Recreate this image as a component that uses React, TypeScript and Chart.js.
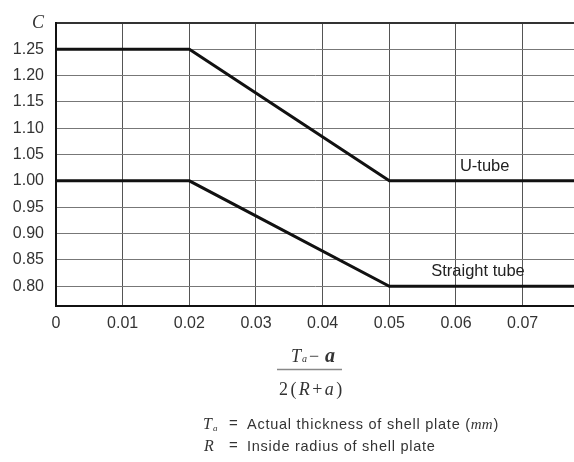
import React, { useEffect, useRef } from "react";
import { Chart, registerables } from "chart.js";

Chart.register(...registerables);

const U_TUBE_X = [0, 0.02, 0.05, 0.0777];
const U_TUBE_Y = [1.25, 1.25, 1.0, 1.0];
const STRAIGHT_X = [0, 0.02, 0.05, 0.0777];
const STRAIGHT_Y = [1.0, 1.0, 0.8, 0.8];
const X_TICKS = [0, 0.01, 0.02, 0.03, 0.04, 0.05, 0.06, 0.07];
const Y_TICKS = [0.8, 0.85, 0.9, 0.95, 1.0, 1.05, 1.1, 1.15, 1.2, 1.25, 1.3];
const SERIES_LABELS = ["U-tube", "Straight tube"];

const W = 574;
const H = 462;

const SANS = '"Liberation Sans", Arial, sans-serif';
const SERIF = '"Liberation Serif", "Times New Roman", serif';

const textPlugin = {
  id: "extraTexts",
  afterDraw(chart: any) {
    const { ctx } = chart;
    const x = chart.scales.x;
    const y = chart.scales.y;
    ctx.save();
    // curve labels
    ctx.fillStyle = "#222";
    ctx.font = `16.5px ${SANS}`;
    ctx.textAlign = "center";
    ctx.textBaseline = "middle";
    ctx.fillText(SERIES_LABELS[0], x.getPixelForValue(0.0643), y.getPixelForValue(1.027));
    ctx.fillText(SERIES_LABELS[1], x.getPixelForValue(0.0633), y.getPixelForValue(0.828));

    // axis title fraction
    ctx.textAlign = "left";
    ctx.textBaseline = "alphabetic";
    ctx.fillStyle = "#333";
    ctx.font = `italic 18px ${SERIF}`;
    ctx.fillText("T", 291, 362);
    ctx.font = `italic 10px ${SERIF}`;
    ctx.fillText("a", 302, 362);
    ctx.font = `18px ${SERIF}`;
    ctx.fillText("\u2212", 309, 362);
    ctx.font = `bold italic 20px ${SERIF}`;
    ctx.fillText("a", 325, 362);

    ctx.strokeStyle = "#888";
    ctx.lineWidth = 1.5;
    ctx.beginPath();
    ctx.moveTo(277, 369.5);
    ctx.lineTo(342, 369.5);
    ctx.stroke();

    const denom: [string, string][] = [
      ["2", "normal"],
      ["(", "normal"],
      ["R", "italic"],
      ["+", "normal"],
      ["a", "italic"],
      [")", "normal"],
    ];
    let dx = 279;
    for (const [ch, st] of denom) {
      ctx.font = `${st === "italic" ? "italic " : ""}18px ${SERIF}`;
      ctx.fillText(ch, dx, 395);
      dx += ctx.measureText(ch).width + 2.4;
    }

    // legend of symbols
    ctx.fillStyle = "#333";
    ctx.font = `italic 16px ${SERIF}`;
    ctx.fillText("T", 203, 429);
    ctx.font = `italic 9px ${SERIF}`;
    ctx.fillText("a", 213, 431);
    ctx.font = `15px ${SANS}`;
    ctx.fillText("=", 229, 428);
    (ctx as any).letterSpacing = "0.75px";
    ctx.font = `14.5px ${SANS}`;
    const t1 = "Actual thickness of shell plate (";
    ctx.fillText(t1, 247, 429);
    const w1 = ctx.measureText(t1).width;
    (ctx as any).letterSpacing = "0px";
    ctx.font = `italic 15px ${SERIF}`;
    ctx.fillText("mm", 247 + w1, 429);
    const w2 = ctx.measureText("mm").width;
    ctx.font = `14.5px ${SANS}`;
    ctx.fillText(")", 247 + w1 + w2 + 1, 429);

    ctx.font = `italic 16px ${SERIF}`;
    ctx.fillText("R", 204, 451);
    ctx.font = `15px ${SANS}`;
    ctx.fillText("=", 229, 450);
    (ctx as any).letterSpacing = "0.75px";
    ctx.font = `14.5px ${SANS}`;
    ctx.fillText("Inside radius of shell plate", 247, 451);
    (ctx as any).letterSpacing = "0px";
    ctx.restore();
  },
};

export default function App() {
  const ref = useRef<HTMLCanvasElement>(null);
  useEffect(() => {
    if (!ref.current) return;
    const chart = new Chart(ref.current, {
      type: "line",
      data: {
        datasets: [
          {
            label: SERIES_LABELS[0],
            data: U_TUBE_X.map((v, i) => ({ x: v, y: U_TUBE_Y[i] })),
            borderColor: "#111",
            borderWidth: 3,
            pointRadius: 0,
            tension: 0,
          },
          {
            label: SERIES_LABELS[1],
            data: STRAIGHT_X.map((v, i) => ({ x: v, y: STRAIGHT_Y[i] })),
            borderColor: "#111",
            borderWidth: 3,
            pointRadius: 0,
            tension: 0,
          },
        ],
      },
      options: {
        animation: false,
        responsive: false,
        events: [],
        layout: { padding: { top: 19, right: 0, left: 0, bottom: 0 } },
        plugins: { legend: { display: false }, tooltip: { enabled: false } },
        scales: {
          x: {
            type: "linear",
            min: 0,
            max: 0.0777,
            afterBuildTicks: (s: any) => {
              s.ticks = X_TICKS.map((v) => ({ value: v }));
            },
            afterFit: (s: any) => {
              s.height = H - 306;
            },
            border: { color: "#111", width: 2 },
            grid: { color: "#555", lineWidth: 1, drawTicks: false },
            ticks: {
              color: "#333",
              font: { family: SANS, size: 16 },
              padding: 8,
              maxRotation: 0,
              autoSkip: false,
              callback: (v: any) => (v === 0 ? "0" : Number(v).toFixed(2)),
            },
          },
          y: {
            type: "linear",
            min: 0.7625,
            max: 1.3,
            afterBuildTicks: (s: any) => {
              s.ticks = Y_TICKS.map((v) => ({ value: v }));
            },
            afterFit: (s: any) => {
              s.width = 56;
            },
            border: { color: "#111", width: 2 },
            grid: {
              drawTicks: false,
              color: (c: any) => (c.tick && Math.abs(c.tick.value - 1.3) < 1e-9 ? "#333" : "#777"),
              lineWidth: (c: any) => (c.tick && Math.abs(c.tick.value - 1.3) < 1e-9 ? 2 : 1),
            },
            ticks: {
              color: "#333",
              padding: 12,
              autoSkip: false,
              font: (c: any) =>
                c.tick && Math.abs(c.tick.value - 1.3) < 1e-9
                  ? { family: SERIF, size: 18, style: "italic" }
                  : { family: SANS, size: 16 },
              callback: (v: any) => (Math.abs(Number(v) - 1.3) < 1e-9 ? "C" : Number(v).toFixed(2)),
            },
          },
        },
      },
      plugins: [textPlugin],
    });
    return () => chart.destroy();
  }, []);
  return (
    <div style={{ position: "fixed", left: 0, top: 0, width: W, height: H, background: "#fff" }}>
      <canvas ref={ref} width={W} height={H} style={{ display: "block", width: W, height: H }} />
    </div>
  );
}
